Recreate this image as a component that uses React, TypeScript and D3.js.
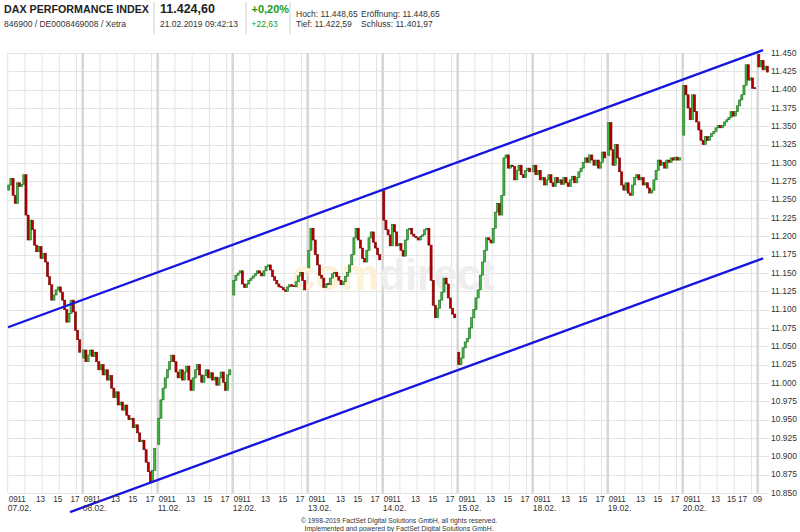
import React from "react";
import * as d3 from "d3";

// ---- data (DAX points, 15-minute closes per trading day; first value = day open) ----
const dayLabels = ["07.02.", "08.02.", "11.02.", "12.02.", "13.02.", "14.02.", "15.02.", "18.02.", "19.02.", "20.02.", "21.02."];
const hourTicks = [9, 11, 13, 15, 17];

const day0702 = [11263, 11270, 11279, 11256, 11245, 11273, 11268, 11271, 11284, 11229, 11195, 11222, 11209, 11188, 11179, 11186, 11170, 11177, 11165, 11145, 11134, 11113, 11120, 11127, 11131, 11124, 11113, 11100, 11083, 11095, 11113, 11097, 11072, 11059, 11042];
const day0802 = [11034, 11045, 11029, 11038, 11045, 11036, 11042, 11029, 11018, 11025, 11011, 11018, 11004, 11010, 10993, 10980, 10988, 10970, 10974, 10963, 10970, 10956, 10950, 10952, 10939, 10943, 10932, 10920, 10922, 10909, 10892, 10879, 10865, 10881, 10911];
const day1102 = [10916, 10952, 10977, 10993, 11007, 11018, 11029, 11038, 11029, 11015, 11007, 11018, 11004, 11015, 11023, 11004, 10990, 11007, 11018, 11025, 11011, 11001, 11010, 11018, 11007, 11014, 11004, 11008, 10997, 11007, 11015, 11001, 10990, 11011, 11018];
const day1202 = [11120, 11140, 11147, 11150, 11153, 11135, 11130, 11135, 11140, 11143, 11146, 11149, 11153, 11150, 11146, 11153, 11159, 11161, 11154, 11145, 11140, 11135, 11131, 11130, 11127, 11125, 11131, 11134, 11132, 11131, 11138, 11146, 11151, 11140, 11127];
const day1302 = [11157, 11181, 11211, 11195, 11175, 11161, 11147, 11143, 11130, 11135, 11134, 11143, 11149, 11151, 11145, 11140, 11134, 11138, 11145, 11151, 11161, 11175, 11198, 11211, 11195, 11184, 11170, 11165, 11181, 11198, 11206, 11192, 11184, 11175, 11168];
const day1402 = [11262, 11222, 11209, 11202, 11187, 11216, 11206, 11187, 11190, 11181, 11173, 11195, 11209, 11211, 11203, 11200, 11198, 11195, 11200, 11202, 11209, 11211, 11188, 11140, 11106, 11089, 11102, 11113, 11124, 11143, 11135, 11116, 11102, 11094, 11089];
const day1502 = [11042, 11025, 11034, 11048, 11056, 11061, 11075, 11089, 11100, 11116, 11127, 11147, 11165, 11181, 11198, 11195, 11191, 11211, 11233, 11245, 11229, 11256, 11307, 11311, 11293, 11297, 11295, 11277, 11290, 11297, 11284, 11280, 11290, 11293, 11288];
const day1802 = [11288, 11297, 11284, 11290, 11277, 11280, 11270, 11277, 11284, 11273, 11268, 11280, 11273, 11277, 11271, 11280, 11273, 11268, 11277, 11282, 11273, 11280, 11288, 11293, 11301, 11307, 11301, 11311, 11304, 11297, 11304, 11293, 11301, 11315, 11307];
const day1902 = [11310, 11355, 11318, 11297, 11325, 11307, 11288, 11270, 11263, 11273, 11259, 11256, 11270, 11280, 11284, 11277, 11280, 11270, 11273, 11266, 11259, 11263, 11277, 11290, 11304, 11297, 11301, 11293, 11304, 11301, 11307, 11304, 11308, 11304, 11307];
const day2002 = [11338, 11406, 11393, 11375, 11359, 11393, 11370, 11356, 11345, 11331, 11325, 11336, 11331, 11336, 11340, 11343, 11348, 11351, 11348, 11351, 11356, 11359, 11362, 11370, 11364, 11370, 11378, 11386, 11393, 11406, 11434, 11413, 11416, 11402, 11401];
const day2102 = [11448, 11431, 11440, 11427, 11432, 11424];

const days = [day0702, day0802, day1102, day1202, day1302, day1402, day1502, day1802, day1902, day2002, day2102];

// trend channel (day units, index points)
const upperChannel = [{ t: 0.004, v: 11076 }, { t: 10.071, v: 11454 }];
const lowerChannel = [{ t: 0.831, v: 10824 }, { t: 10.071, v: 11170 }];

const yMin = 10850;
const yMax = 11450;
const yStep = 25;

const headerTitle = "DAX PERFORMANCE INDEX";
const headerIds = "846900 / DE0008469008 / Xetra";
const headerLast = "11.424,60";
const headerTime = "21.02.2019 09:42:13";
const headerPct = "+0,20%";
const headerAbs = "+22,63";
const headerHoch = "Hoch: 11.448,65";
const headerOpen = "Eröffnung: 11.448,65";
const headerTief = "Tief: 11.422,59";
const headerClose = "Schluss: 11.401,97";

const FONT = "'Liberation Sans', Arial, Helvetica, sans-serif";

export default function App() {
  const W = 800;
  const H = 532;
  const plotLeft = 7.7;
  const dayW = 75;
  const plotRight = 769;
  const plotTop = 53;
  const plotBottom = 493;

  const x = d3.scaleLinear().domain([0, 11]).range([plotLeft, plotLeft + dayW * 11]);
  const y = d3.scaleLinear().domain([yMin, yMax]).range([plotBottom, plotTop]);
  const hourT = 8.6 / dayW;
  const slotT = hourT / 4;

  const locale = d3.formatLocale({ decimal: ",", thousands: ".", grouping: [3], currency: ["", "€"] });
  const fmt = locale.format(",");
  const yTicks = d3.range(yMin, yMax + 1, yStep);

  const candles: { cx: number; o: number; c: number }[] = [];
  days.forEach((arr, d) => {
    for (let k = 0; k < arr.length - 1; k++) {
      candles.push({ cx: x(d + (k + 0.5) * slotT), o: arr[k], c: arr[k + 1] });
    }
  });

  const line = d3.line<{ t: number; v: number }>().x((p) => x(p.t)).y((p) => y(p.v));
  const xFont = 8.2;

  return (
    <svg width={W} height={H} style={{ position: "absolute", left: 0, top: 0, background: "#fff" }} fontFamily={FONT}>
      {/* header */}
      <g fill="#222">
        <text x={4} y={12.8} fontSize={10.7} fontWeight="bold">{headerTitle}</text>
        <text x={4} y={27.3} fontSize={8.5} fill="#333">{headerIds}</text>
        <text x={160} y={13} fontSize={12.5} fontWeight="bold">{headerLast}</text>
        <text x={160} y={27.3} fontSize={8.5} fill="#333">{headerTime}</text>
        <text x={251.5} y={13} fontSize={11} fontWeight="bold" fill="#1a9a1a">{headerPct}</text>
        <text x={251.5} y={27.3} fontSize={8.5} fill="#1a9a1a">{headerAbs}</text>
        <text x={296} y={16.5} fontSize={8.5} fill="#333">{headerHoch}</text>
        <text x={361} y={16.5} fontSize={8.5} fill="#333">{headerOpen}</text>
        <text x={296} y={27.3} fontSize={8.5} fill="#333">{headerTief}</text>
        <text x={361} y={27.3} fontSize={8.5} fill="#333">{headerClose}</text>
      </g>
      {[154, 246, 290].map((sx) => (
        <line key={sx} x1={sx} x2={sx} y1={2} y2={34} stroke="#cfcfcf" strokeWidth={1} />
      ))}

      {/* horizontal gridlines */}
      {yTicks.map((v) => (
        <line key={"h" + v} x1={plotLeft} x2={plotRight} y1={Math.round(y(v)) + 0.5} y2={Math.round(y(v)) + 0.5} stroke="#e4e4e4" strokeWidth={1} />
      ))}
      {/* vertical gridlines */}
      {dayLabels.map((lab, d) =>
        hourTicks.map((h) => {
          if (d === 10 && h > 9) return null;
          const xx = x(d + (h - 9) * hourT);
          const sep = h === 9 && d > 0;
          return (
            <line key={"v" + d + "_" + h} x1={xx} x2={xx} y1={plotTop} y2={plotBottom} stroke={sep ? "#d6d6d6" : "#e4e4e4"} strokeWidth={sep ? 2.5 : 1} />
          );
        })
      )}

      {/* watermark */}
      <text x={292} y={290} fontSize={44} fontWeight="bold" textLength={203} lengthAdjust="spacingAndGlyphs">
        <tspan fill="#fdf1d8">com</tspan>
        <tspan fill="#eeeeee">direct</tspan>
      </text>

      {/* candles */}
      <g>
        {candles.map((c, i) => {
          const up = c.c >= c.o;
          const y0 = y(Math.max(c.o, c.c));
          const y1 = y(Math.min(c.o, c.c));
          const hgt = Math.max(1, y1 - y0);
          return (
            <rect key={i} x={c.cx - 1.05} y={y0 - (hgt === 1 ? 0.5 : 0)} width={2.1} height={hgt}
              fill={up ? "#3fb83f" : "#b00000"} stroke={up ? "#1d6d1d" : "#7d0000"} strokeWidth={0.6} />
          );
        })}
      </g>

      {/* trend channel */}
      <path d={line(upperChannel) || ""} stroke="#1515e0" strokeWidth={2.3} fill="none" />
      <path d={line(lowerChannel) || ""} stroke="#1515e0" strokeWidth={2.3} fill="none" />

      {/* y axis labels */}
      {yTicks.map((v) => (
        <text key={"yl" + v} x={771} y={y(v)} dy="0.33em" fontSize={8.5} fill="#333">{fmt(v)}</text>
      ))}

      {/* x axis labels */}
      {dayLabels.map((lab, d) => {
        const d0 = x(d);
        if (d === 10) {
          return (
            <text key={"xl" + d} x={753} y={502} fontSize={xFont} fill="#333">09</text>
          );
        }
        return (
          <g key={"xl" + d} fontSize={xFont} fill="#333">
            <text x={d0 + 1} y={502}>09</text>
            <text x={d0 + 9.5} y={502}>11</text>
            {[13, 15, 17].map((h) => {
              let cx = x(d + (h - 9) * hourT) - 1.5;
              if (d === 9 && h === 15) cx = 731.5;
              if (d === 9 && h === 17) cx = 742.5;
              return <text key={h} x={cx} y={502} textAnchor="middle">{h}</text>;
            })}
            <text x={d0} y={510.5} fontSize={8.5}>{lab}</text>
          </g>
        );
      })}

      {/* footer */}
      <text x={399} y={522.5} fontSize={6.8} textAnchor="middle" fill="#333">© 1998-2019 FactSet Digital Solutions GmbH, all rights reserved.</text>
      <text x={399} y={530.5} fontSize={6.8} textAnchor="middle" fill="#333">Implemented and powered by FactSet Digital Solutions GmbH.</text>
    </svg>
  );
}
